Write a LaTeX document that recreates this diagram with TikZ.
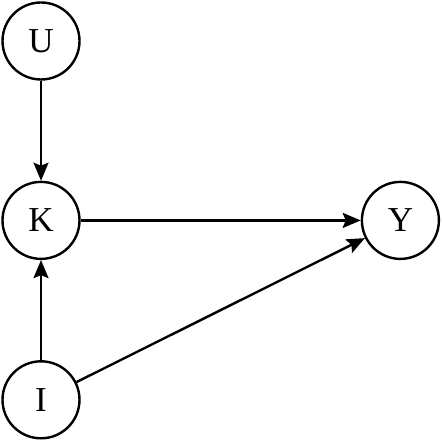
\documentclass[tikz,border=0pt]{standalone}
\usepackage{fontspec}
\setmainfont{Liberation Serif}
\usetikzlibrary{positioning, arrows.meta}

\begin{document}
\begin{tikzpicture}[
			node distance=100pt and 280pt,
			var/.style={draw, circle, line width=2.4pt, minimum size=77pt, inner sep=0pt, font=\fontsize{35}{35}\selectfont},
			arrow/.style={-{Stealth[length=18pt, width=15pt, inset=3pt]}, line width=2.4pt}
			]
			\useasboundingbox (0,0) rectangle (443pt,443pt);
			
			% Nodes
			\node[var] (u) at (41pt,402pt) {U};
			
			\node[var, below=of u] (k) {K};
			
			\node[var, below=of k] (i) {I};
			
			\node[var, right=of k] (y) {Y};
			
			% Arrows
			\draw[arrow] (u) -- (k);
			
			\draw[arrow] (i) -- (k);
			
			\draw[arrow] (k) -- (y);
			
			\draw[arrow] (i) -- (y);
			
		\end{tikzpicture}
\end{document}
